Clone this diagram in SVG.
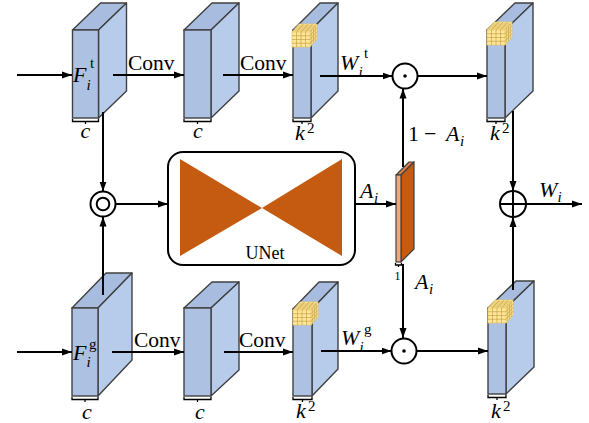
<svg xmlns="http://www.w3.org/2000/svg" xmlns:xlink="http://www.w3.org/1999/xlink" width="589" height="423" viewBox="0 0 589 423">
<style>
text{font-family:"Liberation Serif","Times New Roman",serif;fill:#000}
.it{font-style:italic}
.lbl{font-size:22px}
.cv{font-size:21.5px}
.sub{font-size:15px}
.front{fill:#adc1e3;stroke:#404040;stroke-width:1.4}
.side{fill:#b7cbeb;stroke:#404040;stroke-width:1.4;stroke-linejoin:round}
.top{fill:#a7bcdf;stroke:#404040;stroke-width:1.4;stroke-linejoin:round}
.cb{fill:#ffe699;stroke:#e6c66a;stroke-width:0.7}
.cg{fill:none;stroke:#c09a3a;stroke-width:0.6}
.brace{fill:none;stroke:#000;stroke-width:1.3}
.arr{fill:none;stroke:#000;stroke-width:2;marker-end:url(#ah)}
.op{fill:#fff;stroke:#000;stroke-width:2}
</style>
<defs>
<marker id="ah" markerUnits="userSpaceOnUse" markerWidth="10" markerHeight="8" refX="10" refY="4" orient="auto">
<path d="M0,0.5 L10,4 L0,7.5 z" fill="#000"/>
</marker>
<g id="cube">
<polygon class="cb" points="0,0 7,-8 25,-8 18,0"/>
<polygon class="cb" points="18,0 25,-8 25,7 18,15"/>
<rect class="cb" x="0" y="0" width="18" height="15"/>
<path class="cg" d="M4.5,0V15M9,0V15M13.5,0V15M0,3.75H18M0,7.5H18M0,11.25H18M4.5,0l7,-8M9,0l7,-8M13.5,0l7,-8M1.75,-2h18M3.5,-4h18M5.25,-6h18M19.75,-2v15M21.5,-4v15M23.25,-6v15M18,3.75l7,-8M18,7.5l7,-8M18,11.25l7,-8"/>
</g>
</defs>

<g id="feat-t">
<polygon class="top" points="72.5,30 100.5,3 126.5,3 98.5,30"/>
<polygon class="side" points="98.5,30 126.5,3 126.5,91 98.5,118"/>
<rect class="front" x="72.5" y="30" width="26" height="88"/>
<path class="brace" d="M72.5,119v2.5h26v-2.5M85.5,121.5v2.5"/>
<text class="lbl it" x="85.5" y="138" text-anchor="middle">c</text>
<text class="lbl it" x="73" y="82">F</text>
<text class="sub it" x="86.5" y="90">i</text>
<text class="sub" x="90" y="68">t</text>
</g>

<g id="conv1-t">
<polygon class="top" points="184,30 212,3 239,3 211,30"/>
<polygon class="side" points="211,30 239,3 239,91 211,118"/>
<rect class="front" x="184" y="30" width="27" height="88"/>
<path class="brace" d="M184,119v2.5h27v-2.5M197.5,121.5v2.5"/>
<text class="lbl it" x="198" y="138" text-anchor="middle">c</text>
</g>

<g id="kernel-t">
<polygon class="top" points="293,30 320,3 338,3 311,30"/>
<polygon class="side" points="311,30 338,3 338,91 311,118"/>
<rect class="front" x="293" y="30" width="18" height="88"/>
<use xlink:href="#cube" href="#cube" transform="translate(292,32)"/>
<path class="brace" d="M293,119v2.5h18v-2.5M302,121.5v2.5"/>
<text class="lbl it" x="295" y="140">k</text>
<text class="sub" x="307" y="133">2</text>
</g>

<g id="out-t">
<polygon class="top" points="487,30 515,3 533,3 505,30"/>
<polygon class="side" points="505,30 533,3 533,91 505,118"/>
<rect class="front" x="487" y="30" width="18" height="88"/>
<use xlink:href="#cube" href="#cube" transform="translate(487,30)"/>
<path class="brace" d="M487,119v2.5h18v-2.5M496,121.5v2.5"/>
<text class="lbl it" x="490" y="140">k</text>
<text class="sub" x="502" y="133">2</text>
</g>

<g id="feat-g">
<polygon class="top" points="72,308 106,273 132,273 98,308"/>
<polygon class="side" points="98,308 132,273 132,360 98,396"/>
<rect class="front" x="72" y="308" width="26" height="88"/>
<path class="brace" d="M72,397v2.5h26v-2.5M85,399.5v2.5"/>
<text class="lbl it" x="87" y="419" text-anchor="middle">c</text>
<text class="lbl it" x="73" y="360">F</text>
<text class="sub it" x="86.5" y="367">i</text>
<text class="sub" x="89" y="349">g</text>
</g>

<g id="conv1-g">
<polygon class="top" points="184,308 212,282 239,282 211,308"/>
<polygon class="side" points="211,308 239,282 239,370 211,396"/>
<rect class="front" x="184" y="308" width="27" height="88"/>
<path class="brace" d="M184,397v2.5h27v-2.5M197.5,399.5v2.5"/>
<text class="lbl it" x="200" y="419" text-anchor="middle">c</text>
</g>

<g id="kernel-g">
<polygon class="top" points="293,309 319,282 338,282 312,309"/>
<polygon class="side" points="312,309 338,282 338,369 312,396"/>
<rect class="front" x="293" y="309" width="19" height="87"/>
<use xlink:href="#cube" href="#cube" transform="translate(293,310)"/>
<path class="brace" d="M293,397v2.5h19v-2.5M302.5,399.5v2.5"/>
<text class="lbl it" x="296" y="418">k</text>
<text class="sub" x="308" y="411">2</text>
</g>

<g id="out-g">
<polygon class="top" points="488,308 516,281 534,281 506,308"/>
<polygon class="side" points="506,308 534,281 534,367 506,394"/>
<rect class="front" x="488" y="308" width="18" height="86"/>
<use xlink:href="#cube" href="#cube" transform="translate(488,308)"/>
<path class="brace" d="M488,395v2.5h18v-2.5M497,397.5v2.5"/>
<text class="lbl it" x="491" y="418">k</text>
<text class="sub" x="503" y="411">2</text>
</g>

<g id="unet">
<rect x="168" y="152" width="187" height="113" rx="15" fill="#fff" stroke="#000" stroke-width="2"/>
<polygon points="180,159 180,256 262,208" fill="#c55a11"/>
<polygon points="342,159 342,256 262,208" fill="#c55a11"/>
<text x="265" y="259" font-size="18" text-anchor="middle">UNet</text>
</g>

<g id="attn-map">
<polygon points="396,175 409,162 414,162 401,175" fill="#d8824a" stroke="#404040" stroke-width="1.2" stroke-linejoin="round"/>
<polygon points="401,175 414,162 414,249 401,262" fill="#c55a11" stroke="#404040" stroke-width="1.2" stroke-linejoin="round"/>
<rect x="396" y="175" width="5" height="87" fill="#f0a878" stroke="#404040" stroke-width="1.2"/>
<path class="brace" d="M395.5,263v2h6v-2M398.5,265v2"/>
<text x="394.5" y="280" font-size="12">1</text>
</g>

<g id="connectors">
<line class="arr" x1="17" y1="75" x2="72" y2="75"/>
<line class="arr" x1="113" y1="75" x2="184" y2="75"/>
<line class="arr" x1="223" y1="75" x2="293" y2="75"/>
<line class="arr" x1="320" y1="76" x2="392.5" y2="76"/>
<line class="arr" x1="418" y1="76" x2="487" y2="76"/>
<line class="arr" x1="103" y1="112" x2="103" y2="191.5"/>
<line class="arr" x1="103" y1="295" x2="103" y2="216.5"/>
<line class="arr" x1="116" y1="204" x2="168" y2="204"/>
<line class="arr" x1="355" y1="204" x2="396" y2="204"/>
<line class="arr" x1="403" y1="167" x2="403" y2="88.5"/>
<line class="arr" x1="403" y1="264" x2="403" y2="338"/>
<line class="arr" x1="321" y1="351" x2="391.5" y2="351"/>
<line class="arr" x1="417" y1="351" x2="488" y2="351"/>
<line class="arr" x1="513" y1="111" x2="513" y2="191"/>
<line class="arr" x1="513" y1="290" x2="513" y2="217"/>
<line class="arr" x1="526" y1="204" x2="582" y2="204"/>
<line class="arr" x1="17" y1="352" x2="72" y2="352"/>
<line class="arr" x1="112" y1="352" x2="184" y2="352"/>
<line class="arr" x1="224" y1="352" x2="293" y2="352"/>
<text class="cv" x="128" y="70">Conv</text>
<text class="cv" x="240" y="70">Conv</text>
<text class="cv" x="134" y="347">Conv</text>
<text class="cv" x="239" y="347">Conv</text>
<text class="lbl it" x="340" y="70">W</text>
<text class="sub it" x="358.5" y="77">i</text>
<text class="sub" x="364" y="58">t</text>
<text class="lbl it" x="341" y="345">W</text>
<text class="sub it" x="359.5" y="352">i</text>
<text class="sub" x="364" y="334">g</text>
<text class="lbl it" x="360" y="198">A</text>
<text class="sub it" x="374" y="203">i</text>
<text class="lbl" x="408" y="141">1</text>
<text class="lbl" x="424" y="141">−</text>
<text class="lbl it" x="446" y="141">A</text>
<text class="sub it" x="460" y="146">i</text>
<text class="lbl it" x="415" y="289">A</text>
<text class="sub it" x="429" y="294">i</text>
<text class="lbl it" x="539" y="197">W</text>
<text class="sub it" x="557.5" y="202">i</text>
</g>

<g id="op-concat">
<circle class="op" cx="103" cy="204" r="12.5"/>
<circle cx="103" cy="204" r="6.3" fill="none" stroke="#000" stroke-width="2"/>
</g>
<g id="op-mul-t">
<circle class="op" cx="405" cy="76" r="12.5"/>
<circle cx="405" cy="76" r="1.8" fill="#000"/>
</g>
<g id="op-mul-g">
<circle class="op" cx="404" cy="351" r="12.5"/>
<circle cx="404" cy="351" r="1.8" fill="#000"/>
</g>
<g id="op-add">
<circle class="op" cx="513" cy="204" r="13"/>
<path d="M500,204h26M513,191v26" stroke="#000" stroke-width="2"/>
</g>
</svg>
